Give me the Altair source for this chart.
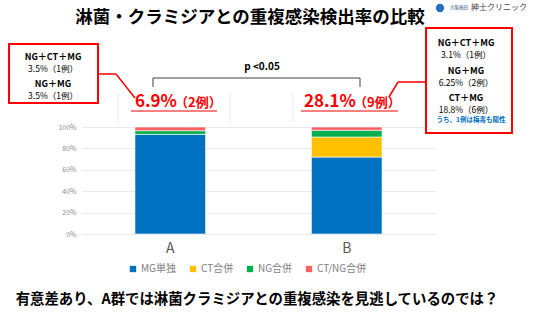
import altair as alt
import pandas as pd

FONT = "Noto Sans CJK JP"

# ---- data ----
groups = ["A", "B"]
categories = ["MG単独", "CT合併", "NG合併", "CT/NG合併"]
colors = ["#0070C0", "#FFC000", "#00B050", "#FF6161"]
values_A = [93.1, 0.0, 3.45, 3.45]
values_B = [71.9, 18.8, 6.25, 3.1]

rows = []
for g, vals in zip(groups, [values_A, values_B]):
    for i, (c, v) in enumerate(zip(categories, vals)):
        rows.append({"group": g, "cat": c, "value": v, "ord": i})
df = pd.DataFrame(rows)

# plot area placement (absolute px in 536x319 window)
PL, PT, PW, PH = 82, 127, 353, 107

bars = alt.Chart(df).mark_bar(stroke="white", strokeWidth=0.6).encode(
    x=alt.X("group:N", title=None, sort=groups,
            scale=alt.Scale(paddingInner=0.6, paddingOuter=0.3),
            axis=alt.Axis(labelAngle=0, labelFontSize=14, labelColor="#595959",
                          labelFont=FONT, ticks=False, domain=False, labelPadding=7)),
    y=alt.Y("value:Q", stack="normalize", title=None,
            axis=alt.Axis(format=".0%", values=[0, 0.2, 0.4, 0.6, 0.8, 1.0],
                          labelFontSize=7, labelColor="#8c8c8c", labelFont=FONT,
                          ticks=False, domain=False, gridColor="#e9e9e9",
                          labelPadding=6)),
    color=alt.Color("cat:N", sort=categories,
                    scale=alt.Scale(domain=categories, range=colors),
                    legend=alt.Legend(title=None, orient="none", direction="horizontal",
                                      legendX=46, legendY=137, symbolType="square",
                                      symbolSize=40, symbolStrokeWidth=0,
                                      labelFontSize=10, labelColor="#7f7f7f",
                                      labelFont=FONT, columnPadding=11,
                                      gridAlign="none",
                                      symbolOffset=0, labelOffset=3)),
    order=alt.Order("ord:Q"),
)

one = pd.DataFrame({"t": [""]})


def txt(text, x, y, size, color="black", weight="normal", align="center", baseline="middle"):
    return alt.Chart(pd.DataFrame({"t": [text]})).mark_text(
        fontSize=size, color=color, fontWeight=weight, align=align,
        baseline=baseline, font=FONT).encode(
        x=alt.value(x - PL), y=alt.value(y - PT), text="t:N")


def seg(x1, y1, x2, y2, color="red", width=1.5):
    return alt.Chart(one).mark_rule(color=color, strokeWidth=width).encode(
        x=alt.value(x1 - PL), y=alt.value(y1 - PT),
        x2=alt.value(x2 - PL), y2=alt.value(y2 - PT))


def box(x1, y1, x2, y2, color="red", width=2):
    return alt.Chart(one).mark_rect(fill="white", stroke=color, strokeWidth=width).encode(
        x=alt.value(x1 - PL), y=alt.value(y1 - PT),
        x2=alt.value(x2 - PL), y2=alt.value(y2 - PT))


def dot(x, y, size, color):
    return alt.Chart(one).mark_point(filled=True, size=size, color=color, opacity=1).encode(
        x=alt.value(x - PL), y=alt.value(y - PT))


layers = [bars]

# title
layers.append(txt("淋菌・クラミジアとの重複感染検出率の比較", 250, 18, 17.5, weight="bold"))
# logo
layers.append(dot(440, 8, 70, "#1f6fc0"))
layers.append(txt("大阪梅田", 450, 8, 4.5, color="#1f4e79", align="left"))
layers.append(txt("紳士クリニック", 471, 8, 8, color="#404040", align="left"))

# faint table lines
for xv in [118, 230, 293]:
    layers.append(seg(xv, 93, xv, 122, color="#e6e6e6", width=0.8))

# left box
layers.append(box(9, 44, 98, 103))
layers.append(txt("NG＋CT＋MG", 53, 57, 9, weight="bold"))
layers.append(txt("3.5%（1例）", 53, 69, 8.5))
layers.append(txt("NG＋MG", 53, 84, 9, weight="bold"))
layers.append(txt("3.5%（1例）", 53, 96, 8.5))
layers.append(seg(98, 74, 116, 74))
layers.append(seg(116, 74, 135, 98))

# right box
layers.append(box(426, 28, 512, 133))
layers.append(txt("NG＋CT＋MG", 466, 43, 9, weight="bold"))
layers.append(txt("3.1%（1例）", 466, 55, 8.5))
layers.append(txt("NG＋MG", 466, 71, 9, weight="bold"))
layers.append(txt("6.25%（2例）", 466, 83, 8.5))
layers.append(txt("CT＋MG", 466, 98, 9, weight="bold"))
layers.append(txt("18.8%（6例）", 466, 110, 8.5))
layers.append(txt("うち、1例は梅毒も陽性", 471, 120, 6.5, color="#0070C0", weight="bold"))
layers.append(seg(427, 82, 398, 82))
layers.append(seg(398, 82, 389, 97))

# p-value bracket
layers.append(txt("p <0.05", 262, 67, 10, weight="bold"))
layers.append(seg(153, 78, 360, 78, color="#404040", width=1))
layers.append(seg(153, 78, 153, 87, color="#404040", width=1))
layers.append(seg(360, 78, 360, 87, color="#404040", width=1))

# highlighted rates
layers.append(txt("6.9%", 177, 102, 17, color="#FF0000", weight="bold", align="right"))
layers.append(txt("（2例）", 175, 103, 13, color="#FF0000", weight="bold", align="left"))
layers.append(seg(131, 111, 217, 111, color="#FF0000", width=1))
layers.append(txt("28.1%", 356, 102, 17, color="#FF0000", weight="bold", align="right"))
layers.append(txt("（9例）", 354, 103, 13, color="#FF0000", weight="bold", align="left"))
layers.append(seg(301, 111, 398, 111, color="#FF0000", width=1))

# bottom message
layers.append(txt("有意差あり、A群では淋菌クラミジアとの重複感染を見逃しているのでは？",
                  257, 300, 14.4, weight="bold"))

chart = alt.layer(*layers).properties(
    width=PW, height=PH,
    padding={"left": PL, "top": PT, "right": 536 - PL - PW, "bottom": 319 - PT - PH},
    autosize=alt.AutoSizeParams(type="none"),
    background="white",
).configure_view(stroke=None)

chart.save("out.html", embed_options={"renderer": "svg", "actions": False})
